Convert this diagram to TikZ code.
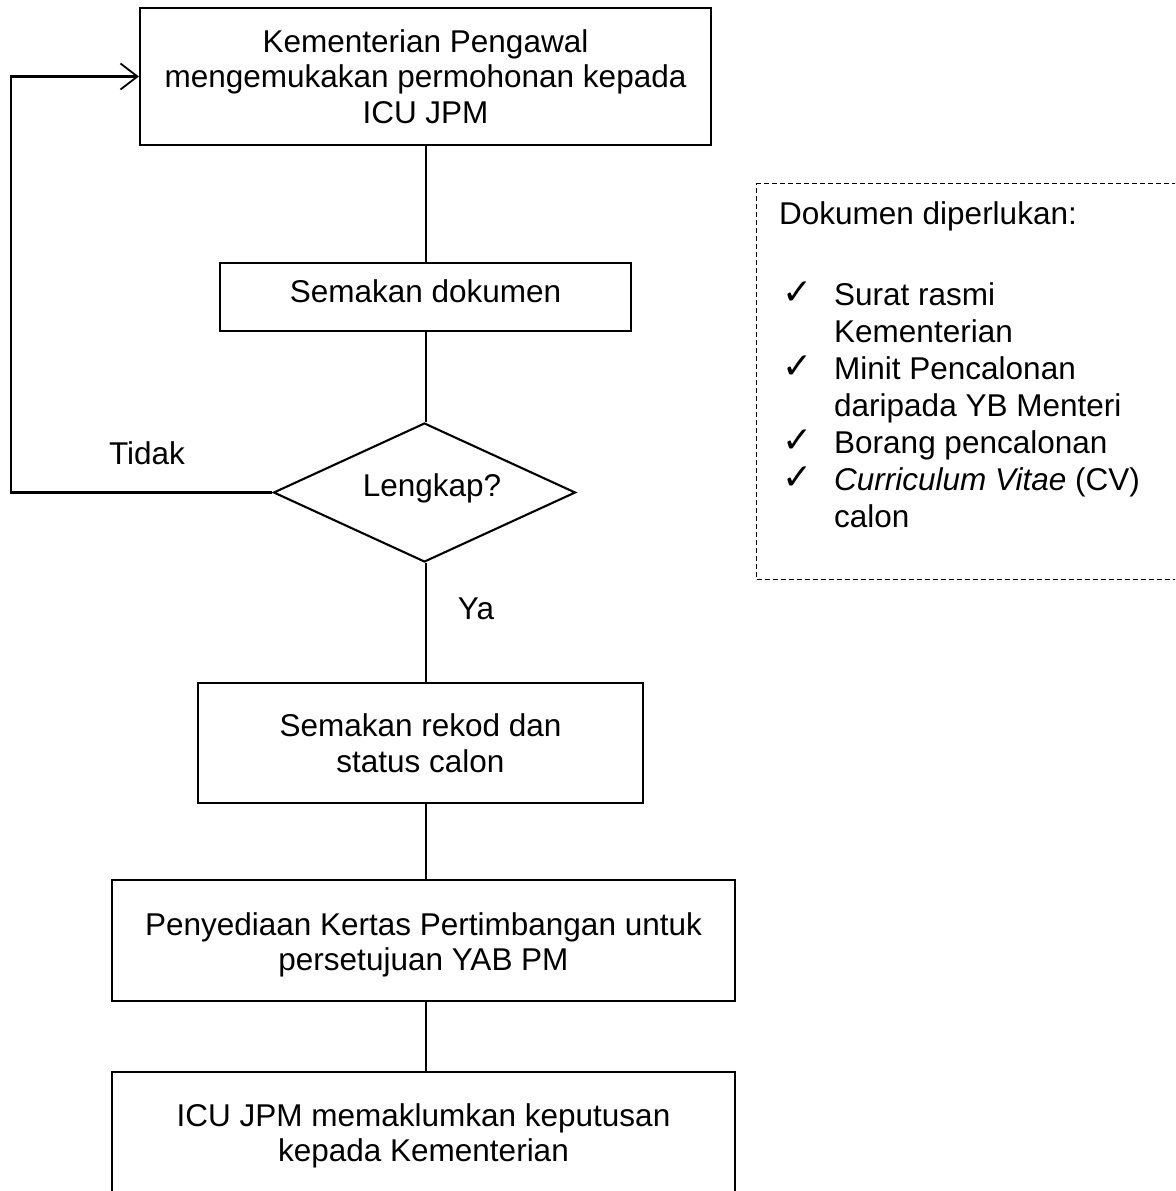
\documentclass[tikz,border=0pt]{standalone}
\usepackage{fontspec}
\setmainfont{Liberation Sans}
\newfontfamily\symfont{DejaVu Sans}
\usetikzlibrary{shapes.geometric,arrows.meta}
\tikzset{
  every node/.style={font=\fontsize{31.5pt}{35.5pt}\selectfont},
  procbox/.style={draw, line width=2.1pt, align=center, inner sep=0pt},
  decision/.style={draw, diamond, line width=2.1pt, inner sep=0pt},
  conn/.style={line width=2.1pt},
  notebox/.style={draw, dash pattern=on 5pt off 3pt, line width=1.1pt, inner sep=0pt},
  plain/.style={inner sep=0pt},
  tick/.style={inner sep=0pt, font=\symfont\fontsize{36pt}{36pt}\selectfont}
}
\begin{document}
\begin{tikzpicture}[x=1pt,y=-1pt]
\clip (0,0) rectangle (1175,1191);
\fill[white] (0,0) rectangle (1175,1191);

\node[procbox, minimum width=571pt, minimum height=137pt] (b1) at (425.5,76.5)
  {Kementerian Pengawal\\mengemukakan permohonan kepada\\ICU JPM};
\node[procbox, minimum width=411pt, minimum height=68pt] (b2) at (425.5,297)
  {\raisebox{12pt}{Semakan dokumen}};
\node[decision, minimum width=302pt, minimum height=139pt] (d) at (424.5,492.5) {};
\node[plain] (dtext) at (432,488) {Lengkap?};
\node[procbox, minimum width=445pt, minimum height=120pt] (b3) at (420.5,743)
  {Semakan rekod dan\\status calon};
\node[procbox, minimum width=623pt, minimum height=121pt] (b4) at (423.5,940.5) {};
\node[plain, align=center] (b4t) at (423.5,945)
  {Penyediaan Kertas Pertimbangan untuk\\persetujuan YAB PM};
\node[procbox, minimum width=623pt, minimum height=128pt] (b5) at (423.5,1136)
  {ICU JPM memaklumkan keputusan\\kepada Kementerian};

\coordinate (spine) at (426,0);
\draw[conn] (b1.south -| spine) -- (b2.north -| spine);
\draw[conn] (b2.south -| spine) -- (d.north -| spine);
\draw[conn] (d.south -| spine) -- (b3.north -| spine);
\draw[conn] (b3.south -| spine) -- (b4.north -| spine);
\draw[conn] (b4.south -| spine) -- (b5.north -| spine);

\coordinate (loopx) at (11,0);
\draw[conn, -{Straight Barb[length=17pt,width=26pt,line width=1.8pt]}]
  (d.west) -- (d.west -| loopx) |- (b1.west);

\node[plain] (tidak) at (147,453) {Tidak};
\node[plain] (ya) at (476,609) {Ya};

\node[notebox, anchor=north west, minimum width=440pt, minimum height=396pt] (docs) at (756,183) {};
\node[plain, anchor=base west] (doch) at (779,224) {Dokumen diperlukan:};

\node[tick, anchor=base] (t1) at (798,304) {✓};
\node[plain, anchor=base west] (i1a) at (834,305) {Surat rasmi};
\node[plain, anchor=base west] (i1b) at (834,342) {Kementerian};
\node[tick, anchor=base] (t2) at (798,378) {✓};
\node[plain, anchor=base west] (i2a) at (834,379) {Minit Pencalonan};
\node[plain, anchor=base west] (i2b) at (834,416) {daripada YB Menteri};
\node[tick, anchor=base] (t3) at (798,452) {✓};
\node[plain, anchor=base west] (i3a) at (834,453) {Borang pencalonan};
\node[tick, anchor=base] (t4) at (798,489) {✓};
\node[plain, anchor=base west] (i4a) at (834,490) {\itshape Curriculum Vitae\upshape{} (CV)};
\node[plain, anchor=base west] (i4b) at (834,527) {calon};
\end{tikzpicture}
\end{document}
